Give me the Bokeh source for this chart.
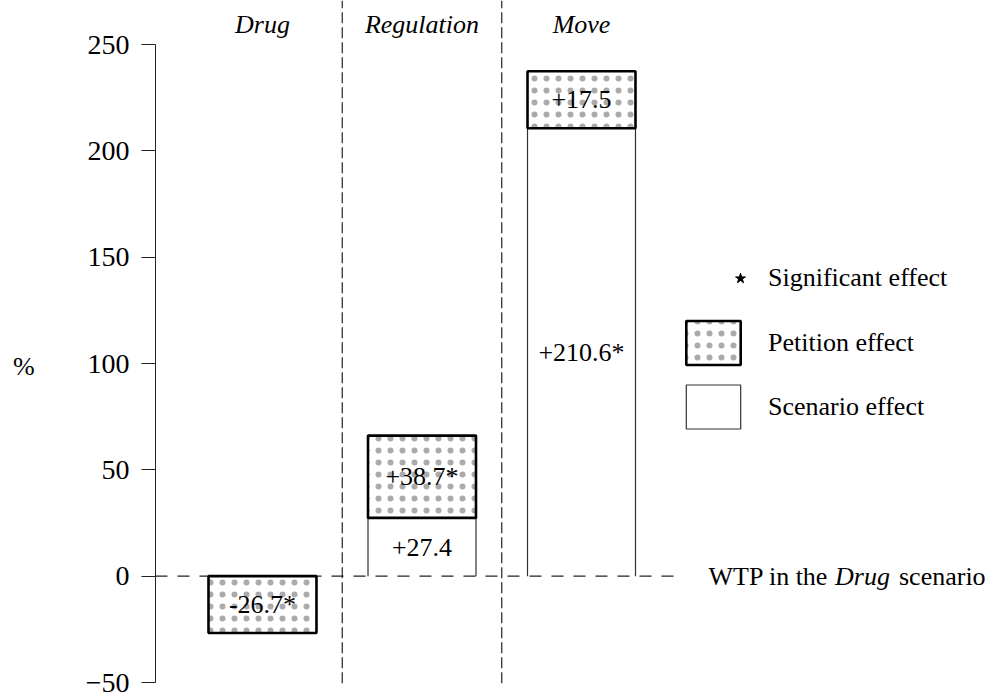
from bokeh.plotting import figure
from bokeh.models import Range1d, FixedTicker, Legend, LegendItem, ColumnDataSource
from bokeh.embed import file_html
from bokeh.resources import INLINE
from bokeh.core.properties import value

# ---------------- data ----------------
categories = ["Drug", "Regulation", "Move"]
scenario_effect = [0.0, 27.4, 210.6]
scenario_significant = [False, False, True]
petition_effect = [-26.7, 38.7, 17.5]          # printed values
petition_significant = [True, True, False]
petition_bar_height = [-26.7, 38.7, 26.8]      # heights as drawn in the picture
y_ticks = [-50, 0, 50, 100, 150, 200, 250]
y_tick_labels = ["\u221250", "0", "50", "100", "150", "200", "250"]
legend_labels = ["Significant effect", "Petition effect", "Scenario effect"]
baseline_text = ["WTP in the", "Drug", "scenario"]
y_axis_label = "%"

# ---------------- style ----------------
SERIF = "Liberation Serif"
TXT = "26px"
BAR_W = 0.677
STAR = "*"

xs = [i + 1 for i in range(len(categories))]

p = figure(width=1004, height=698, output_backend="svg", toolbar_location=None,
           x_range=Range1d(0.3292, 5.652), y_range=Range1d(-57.52, 270.69),
           x_axis_location=None,
           min_border_left=155, min_border_right=0, min_border_top=0, min_border_bottom=0)
p.grid.visible = False
p.outline_line_color = None
p.background_fill_color = "white"

ax = p.yaxis[0]
ax.bounds = (y_ticks[0], y_ticks[-1])
ax.ticker = FixedTicker(ticks=y_ticks)
ax.major_label_overrides = {t: l for t, l in zip(y_ticks, y_tick_labels)}
ax.major_tick_out = 14
ax.major_tick_in = 0
ax.minor_tick_out = 0
ax.minor_tick_in = 0
ax.major_tick_line_color = "#222"
ax.axis_line_color = "#222"
ax.major_label_standoff = 12
ax.major_label_text_font = SERIF
ax.major_label_text_font_size = "28px"
ax.major_label_text_color = "black"
# leading blank line pushes the "%" down to the middle of the axis bounds
ax.axis_label = "\n" + y_axis_label
ax.axis_label_orientation = "horizontal"
ax.axis_label_standoff = 48
ax.axis_label_text_font = SERIF
ax.axis_label_text_font_size = TXT
ax.axis_label_text_font_style = "normal"
ax.axis_label_text_color = "black"

# zero (Drug WTP) reference line
p.segment(x0=[p.x_range.start], y0=[0], x1=[3.62], y1=[0],
          line_color="#222", line_width=1.2, line_dash="12 10")

# category separators
seps = [x + 0.5 for x in xs[:-1]]
p.segment(x0=seps, y0=[-50.3] * len(seps), x1=seps, y1=[p.y_range.end] * len(seps),
          line_color="#222", line_width=1.2, line_dash="11 4")

# scenario effect: side walls only
sc_idx = [i for i, v in enumerate(scenario_effect) if v != 0]
wall_x = [xs[i] - BAR_W / 2 for i in sc_idx] + [xs[i] + BAR_W / 2 for i in sc_idx]
tops = [scenario_effect[i] for i in sc_idx] * 2
p.segment(x0=wall_x, y0=[0] * len(wall_x), x1=wall_x, y1=tops,
          line_color="#333", line_width=1.2)

# petition effect bars with a fine, light dot pattern
HATCH = dict(hatch_pattern="dot", hatch_color="#aaa", hatch_scale=12, hatch_weight=0.1)
pet_src = ColumnDataSource(dict(
    left=[x - BAR_W / 2 for x in xs],
    right=[x + BAR_W / 2 for x in xs],
    bottom=scenario_effect,
    top=[s + h for s, h in zip(scenario_effect, petition_bar_height)],
))
pet_r = p.quad(left="left", right="right", bottom="bottom", top="top", source=pet_src,
               fill_color="white", line_color="black", line_width=2.6, **HATCH)

# value labels
def fmt(v, sig):
    return "{:+.1f}".format(v) + (STAR if sig else "")

lab_x, lab_y, lab_t = [], [], []
for i, x in enumerate(xs):
    if scenario_effect[i] != 0:
        lab_x.append(x); lab_y.append(scenario_effect[i] / 2)
        lab_t.append(fmt(scenario_effect[i], scenario_significant[i]))
    lab_x.append(x); lab_y.append(scenario_effect[i] + petition_bar_height[i] / 2)
    lab_t.append(fmt(petition_effect[i], petition_significant[i]))
p.text(x=lab_x, y=lab_y, text=lab_t, text_align="center", text_baseline="middle",
       text_font=value(SERIF), text_font_size=TXT, text_color="black")

# category titles
p.text(x=xs, y=[259.4] * len(xs), text=categories, text_align="center",
       text_baseline="middle", text_font=value(SERIF), text_font_size=TXT,
       text_font_style="italic", text_color="black")

# baseline label
p.text(x=[4.172, 5.262], y=[0, 0], text=[baseline_text[0], baseline_text[2]],
       text_align="center", text_baseline="middle", text_font=value(SERIF),
       text_font_size=TXT, text_color="black")
p.text(x=[4.762], y=[0], text=[baseline_text[1]], text_align="center",
       text_baseline="middle", text_font=value(SERIF), text_font_size=TXT,
       text_font_style="italic", text_color="black")

# legends (hidden one-point renderers that only provide legend glyphs)
star_r = p.scatter(x=[xs[0]], y=[0], marker="star", fill_color="black",
                   line_color="black", visible=False)
scen_r = p.quad(left=[xs[0]], right=[xs[0]], bottom=[0], top=[0], fill_color=None,
                line_color="#333", line_width=1.2, visible=False)

leg1 = Legend(items=[LegendItem(label=legend_labels[0], renderers=[star_r])],
              location=(572, 405), glyph_width=26, glyph_height=26, label_standoff=15,
              padding=0, margin=0, spacing=0, border_line_color=None,
              background_fill_alpha=0, label_text_font=SERIF,
              label_text_font_size=TXT, label_text_color="black")
leg2 = Legend(items=[LegendItem(label=legend_labels[1], renderers=[pet_r]),
                     LegendItem(label=legend_labels[2], renderers=[scen_r])],
              location=(524, 264), glyph_width=68, glyph_height=55, label_standoff=21,
              padding=0, margin=0, spacing=9, border_line_color=None,
              background_fill_alpha=0, label_text_font=SERIF,
              label_text_font_size=TXT, label_text_color="black")
p.add_layout(leg1)
p.add_layout(leg2)

open("out.html", "w").write(file_html(p, INLINE))
